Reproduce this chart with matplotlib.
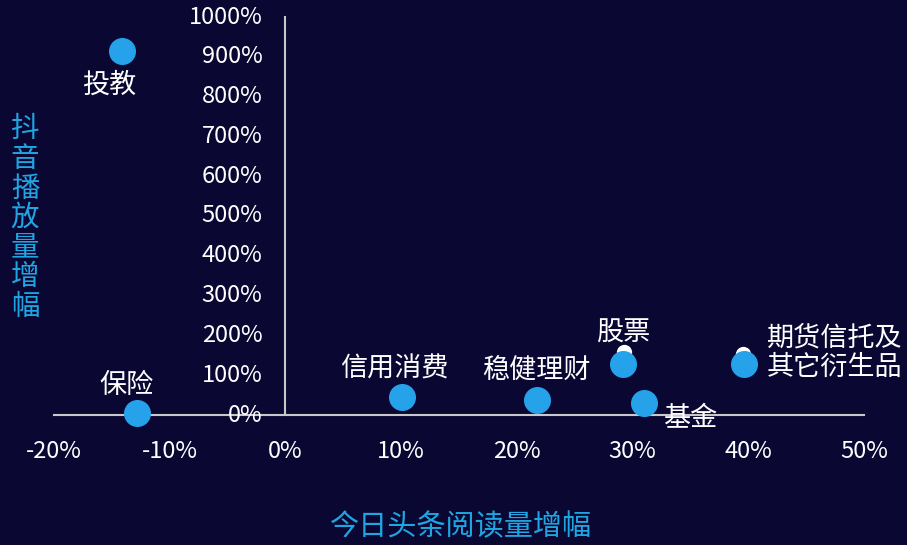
import numpy as np
import matplotlib.pyplot as plt

plt.rcParams['font.family'] = ['Noto Sans CJK SC', 'DejaVu Sans']

# 数据：今日头条阅读量增幅 (x, %) vs 抖音播放量增幅 (y, %)
names = ['投教', '保险', '信用消费', '稳健理财', '股票', '基金', '期货信托及\n其它衍生品']
x_vals = [-14.1, -12.8, 10.1, 21.7, 29.2, 31.0, 39.6]
y_vals = [915, 5, 45, 38, 128, 30, 128]

# 小白点（被遮挡的另一组）
white_x = [29.3, 39.5]
white_y = [158, 153]

x_ticks = [-20, -10, 0, 10, 20, 30, 40, 50]
y_ticks = [0, 100, 200, 300, 400, 500, 600, 700, 800, 900, 1000]

# décalage des étiquettes (pixels) et alignement
label_off = [(-13, -34, 'center'), (-11, 28, 'center'), (-8, 28, 'center'),
             (0, 28, 'center'), (0, 31, 'center'), (46, -16, 'center'),
             (23, 11, 'left')]

bg = '#0b0733'
fig = plt.figure(figsize=(9.07, 5.45), dpi=100, facecolor=bg)
ax = fig.add_axes([54/907, 130/545, 810/907, 398/545])
ax.set_facecolor(bg)
ax.set_xlim(-20, 50)
ax.set_ylim(0, 1000)
for s in ax.spines.values():
    s.set_visible(False)
ax.set_xticks([])
ax.set_yticks([])

# axes croisés
ax.plot([-20, 50], [0, 0], color='#c8c8c8', lw=1.5, clip_on=False, zorder=1)
ax.plot([0, 0], [0, 1000], color='#c8c8c8', lw=1.5, clip_on=False, zorder=1)

for t in x_ticks:
    ax.annotate(f'{t}%', (t, 0), xytext=(0, -37), textcoords='offset pixels',
                ha='center', va='center', color='white', fontsize=17,
                annotation_clip=False)
for t in y_ticks:
    ax.annotate(f'{t}%', (0, t), xytext=(-23, 0), textcoords='offset pixels',
                ha='right', va='center', color='white', fontsize=17,
                annotation_clip=False)

ax.scatter(white_x, white_y, s=100, color='white', zorder=2, clip_on=False)
ax.scatter(x_vals, y_vals, s=340, color='#25a2ea', zorder=3, clip_on=False)

for n, xv, yv, (dx, dy, ha) in zip(names, x_vals, y_vals, label_off):
    ax.annotate(n, (xv, yv), xytext=(dx, dy), textcoords='offset pixels',
                ha=ha, va='center', color='white', fontsize=19.5,
                linespacing=1.1, annotation_clip=False, zorder=4)

fig.text(461/907, 1 - 527/545, '今日头条阅读量增幅', ha='center', va='center',
         color='#1fa6e2', fontsize=21)
fig.text(25/907, 1 - 218/545, '\n'.join('抖音播放量增幅'), ha='center',
         va='center', color='#1fa6e2', fontsize=20.5, linespacing=0.98)

plt.savefig('out.png', dpi=100, facecolor=bg)
